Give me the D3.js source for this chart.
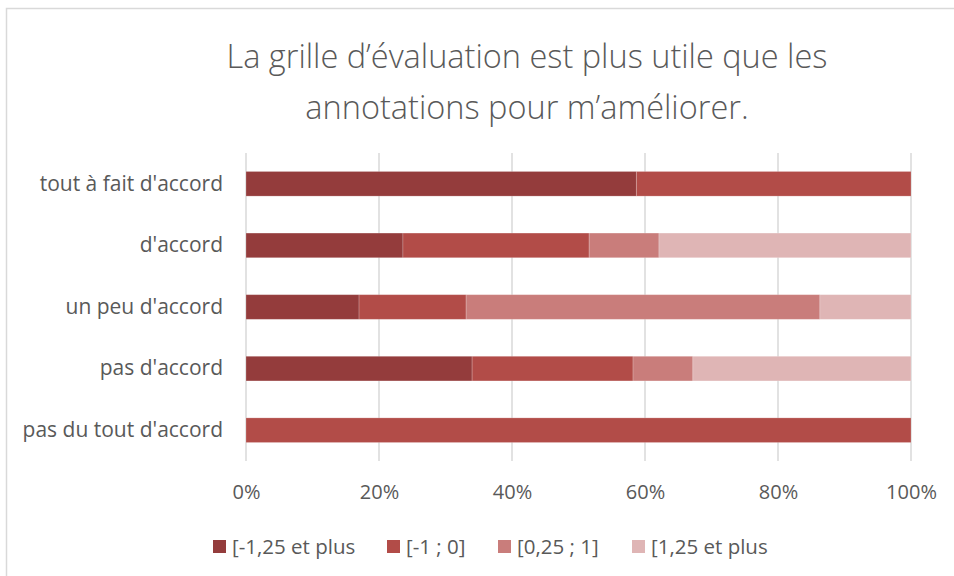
<!DOCTYPE html>
<html>
<head>
<meta charset="utf-8">
<script src="https://cdn.jsdelivr.net/npm/d3@7"></script>
<style>
body { margin: 0; background: #fff; }
text { font-family: 'Open Sans', sans-serif; fill: #595959; }
</style>
</head>
<body>
<div id="chart"></div>
<script>
var categories = [
	"tout à fait d'accord",
	"d'accord",
	"un peu d'accord",
	"pas d'accord",
	"pas du tout d'accord"
]

var seriesNames = ['[-1,25 et plus', '[-1 ; 0]', '[0,25 ; 1]', '[1,25 et plus']

// share of each category, in %
var s1 = [58.7, 23.6, 17.0, 34.0, 0]
var s2 = [41.3, 28.0, 16.1, 24.2, 100]
var s3 = [0, 10.5, 53.2, 9.0, 0]
var s4 = [0, 37.9, 13.7, 32.8, 0]

var xTicks = [0, 0.2, 0.4, 0.6, 0.8, 1]

var colors = ['#943c3c', '#b24c48', '#c97d7b', '#dfb5b5']

var width = 954
var height = 576

var margin = {
	'top' : 153,
	'left' : 246,
	'right' : 43,
	'bottom' : 115,
}

var svg = d3.select('#chart').append('svg')
	.attr('width', width)
	.attr('height', height)

// outer chart border
svg.append('rect')
	.attr('x', 6.5)
	.attr('y', 8.5)
	.attr('width', 1000)
	.attr('height', 1000)
	.attr('fill', 'none')
	.attr('stroke', '#d9d9d9')
	.attr('stroke-width', 1.5)

var titleLines = ['La grille d’évaluation est plus utile que les', 'annotations pour m’améliorer.']
svg.append('g').selectAll('text')
	.data(titleLines)
	.enter().append('text')
	.attr('x', 527)
	.attr('y', function(d, i) { return 68 + i * 51 })
	.attr('text-anchor', 'middle')
	.style('font-size', '32.5px')
	.style('font-weight', 300)
	.text(function(d) { return d })

var chartWidth = width - margin.left - margin.right
var chartHeight = height - margin.top - margin.bottom

var chartInner = svg.append('g')
	.attr('transform', 'translate(' + margin.left + ',' + margin.top + ')')

var xScale = d3.scaleLinear()
	.domain([0, 1])
	.range([0, chartWidth])

var yScale = d3.scaleBand()
	.domain(categories)
	.range([0, chartHeight])
	.paddingInner(0.6)
	.paddingOuter(0.3)

// gridlines
chartInner.append('g')
	.selectAll('line')
	.data(xTicks)
	.enter().append('line')
	.attr('x1', function(d) { return xScale(d) })
	.attr('x2', function(d) { return xScale(d) })
	.attr('y1', 0)
	.attr('y2', chartHeight)
	.attr('stroke', '#d9d9d9')
	.attr('stroke-width', 1.5)

var rows = categories.map(function(c, i) {
	return { cat: c, v: [s1[i], s2[i], s3[i], s4[i]] }
})

var stacked = d3.stack()
	.keys([0, 1, 2, 3])
	.value(function(d, k) { return d.v[k] / 100 })(rows)

chartInner.selectAll('g.series')
	.data(stacked)
	.enter().append('g')
	.attr('class', 'series')
	.attr('fill', function(d, i) { return colors[i] })
	.selectAll('rect')
	.data(function(d) { return d })
	.enter().append('rect')
	.attr('x', function(d) { return xScale(d[0]) })
	.attr('y', function(d) { return yScale(d.data.cat) })
	.attr('width', function(d) { return xScale(d[1]) - xScale(d[0]) })
	.attr('height', yScale.bandwidth())
	.attr('stroke', '#fff')
	.attr('stroke-opacity', 0.25)
	.attr('stroke-width', 0.8)

var xAxis = chartInner.append('g')
	.attr('transform', 'translate(0,' + chartHeight + ')')
	.call(d3.axisBottom(xScale).tickValues(xTicks).tickFormat(d3.format('.0%')).tickSize(0).tickPadding(24))
xAxis.select('.domain').remove()
xAxis.selectAll('text').style('font-size', '20px').style('fill', '#595959').style('font-family', 'Open Sans')

var yAxis = chartInner.append('g')
	.call(d3.axisLeft(yScale).tickSize(0).tickPadding(23))
yAxis.select('.domain').remove()
yAxis.selectAll('text').style('font-size', '21px').style('fill', '#595959').style('font-family', 'Open Sans')

// legend
var legendX = [213, 387, 498, 632]
var legend = svg.append('g')
	.selectAll('g')
	.data(seriesNames)
	.enter().append('g')
	.attr('transform', function(d, i) { return 'translate(' + legendX[i] + ',540)' })

legend.append('rect')
	.attr('width', 13)
	.attr('height', 13)
	.attr('fill', function(d, i) { return colors[i] })

legend.append('text')
	.attr('x', 19)
	.attr('y', 13.5)
	.style('font-size', '20.5px')
	.text(function(d) { return d })
</script>
</body>
</html>
